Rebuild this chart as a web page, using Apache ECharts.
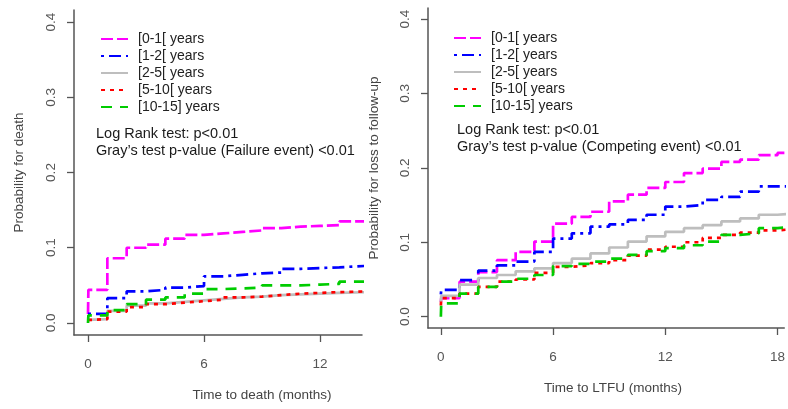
<!DOCTYPE html>
<html>
<head>
<meta charset="utf-8">
<script src="https://cdn.jsdelivr.net/npm/echarts@6/dist/echarts.min.js"></script>
<style>
  html, body { margin: 0; padding: 0; background: #fff; }
  #main { width: 788px; height: 409px; }
</style>
</head>
<body>
<div id="main"></div>
<script>
// groups (age at start)
var groups = ['[0-1[ years', '[1-2[ years', '[2-5[ years', '[5-10[ years', '[10-15] years'];

// left panel: cumulative incidence of death
var deathMonths = [0, 0.02, 1, 2, 3, 4, 5, 6, 7, 8, 9, 10, 11, 12, 13, 14.5];
var death0_1   = [0.012, 0.044, 0.086, 0.100, 0.104, 0.112, 0.117, 0.119, 0.121, 0.123, 0.126, 0.128, 0.129, 0.130, 0.135, 0.135];
var death1_2   = [0.012, 0.012, 0.033, 0.042, 0.044, 0.047, 0.049, 0.062, 0.064, 0.066, 0.067, 0.072, 0.073, 0.074, 0.076, 0.076];
var death2_5   = [0.004, 0.005, 0.016, 0.023, 0.026, 0.028, 0.030, 0.032, 0.034, 0.035, 0.037, 0.038, 0.039, 0.040, 0.041, 0.041];
var death5_10  = [0.004, 0.005, 0.015, 0.021, 0.025, 0.027, 0.029, 0.031, 0.034, 0.035, 0.037, 0.039, 0.040, 0.041, 0.042, 0.042];
var death10_15 = [0.000, 0.010, 0.017, 0.025, 0.031, 0.034, 0.039, 0.045, 0.046, 0.047, 0.050, 0.050, 0.051, 0.052, 0.055, 0.055];

// right panel: cumulative incidence of loss to follow-up
var ltfuMonths = [0, 0.02, 1, 2, 3, 4, 5, 6, 7, 8, 9, 10, 11, 12, 13, 14, 15, 16, 17, 18, 18.5];
var ltfu0_1   = [0.020, 0.025, 0.047, 0.060, 0.076, 0.087, 0.101, 0.125, 0.134, 0.141, 0.155, 0.164, 0.173, 0.181, 0.193, 0.199, 0.208, 0.211, 0.217, 0.220, 0.220];
var ltfu1_2   = [0.030, 0.036, 0.049, 0.062, 0.069, 0.074, 0.087, 0.105, 0.112, 0.121, 0.124, 0.130, 0.137, 0.148, 0.150, 0.157, 0.161, 0.168, 0.175, 0.175, 0.175];
var ltfu2_5   = [0.020, 0.028, 0.043, 0.052, 0.056, 0.061, 0.065, 0.072, 0.078, 0.085, 0.093, 0.101, 0.108, 0.114, 0.119, 0.123, 0.128, 0.132, 0.137, 0.138, 0.138];
var ltfu5_10  = [0.015, 0.025, 0.031, 0.040, 0.047, 0.050, 0.059, 0.067, 0.069, 0.072, 0.076, 0.082, 0.090, 0.094, 0.100, 0.106, 0.110, 0.113, 0.116, 0.117, 0.117];
var ltfu10_15 = [0.000, 0.018, 0.031, 0.040, 0.047, 0.051, 0.056, 0.068, 0.071, 0.074, 0.078, 0.083, 0.088, 0.092, 0.096, 0.101, 0.110, 0.112, 0.119, 0.120, 0.120];

var monthTicksLeft = [0, 6, 12];
var monthTicksRight = [0, 6, 12, 18];
var probTicks = [0, 0.1, 0.2, 0.3, 0.4];

var colors = ['#ff00ff', '#0000ff', '#bebebe', '#ff0000', '#00cc00'];
var dashes = [[12, 4], [3, 5, 12, 5], 'solid', [4, 5], [11, 8]];
var font = 'Liberation Sans, Arial, sans-serif';

function pairs(xs, ys) {
    var out = [];
    for (var i = 0; i < xs.length; i++) out.push([xs[i], ys[i]]);
    return out;
}

function makeSeries(idx, xs, lists) {
    return lists.map(function (ys, k) {
        return {
            name: groups[k],
            type: 'line',
            step: 'end',
            xAxisIndex: idx,
            yAxisIndex: idx,
            showSymbol: false,
            symbol: 'none',
            animation: false,
            lineStyle: { color: colors[k], width: 2.7, type: dashes[k] },
            itemStyle: { color: colors[k] },
            data: pairs(xs, ys)
        };
    });
}

function xAxisCfg(idx, min, max, ticks) {
    return {
        type: 'value', gridIndex: idx, min: min, max: max,
        splitLine: { show: false },
        axisLine: { onZero: false, lineStyle: { color: '#555', width: 1.5 } },
        axisTick: { length: 7, customValues: ticks, lineStyle: { color: '#555', width: 1.3 } },
        axisLabel: { customValues: ticks, margin: 22, color: '#555', fontSize: 13.5, fontFamily: font }
    };
}

function yAxisCfg(idx, min, max, title, gap) {
    return {
        type: 'value', gridIndex: idx, min: min, max: max,
        name: title, nameLocation: 'middle', nameGap: gap,
        nameTextStyle: { color: '#444', fontSize: 13.5, fontFamily: font },
        splitLine: { show: false },
        axisLine: { onZero: false, lineStyle: { color: '#555', width: 1.5 } },
        axisTick: { length: 7, customValues: probTicks, lineStyle: { color: '#555', width: 1.3 } },
        axisLabel: {
            customValues: probTicks, rotate: 90, margin: 16, color: '#555', fontSize: 13.5, fontFamily: font,
            formatter: function (v) { return v.toFixed(1); }
        }
    };
}

function legendCfg(left, top) {
    return {
        data: groups, orient: 'vertical', left: left, top: top,
        itemWidth: 27, itemHeight: 12, itemGap: 3, padding: 0,
        selectedMode: false,
        itemStyle: { opacity: 0 },
        textStyle: { color: '#222', fontSize: 14, fontFamily: font, padding: [0, 0, 0, 5] }
    };
}

function txt(x, y, s, align, size, color) {
    return {
        type: 'text', x: x, y: y,
        style: {
            text: s, fill: color || '#1a1a1a', font: (size || 14.5) + 'px ' + font,
            textAlign: align || 'left', textVerticalAlign: 'middle'
        }
    };
}

var chart = echarts.init(document.getElementById('main'));
var option = {
    animation: false,
    grid: [
        { left: 74, top: 10, width: 288, height: 325 },
        { left: 428, top: 8, width: 360, height: 320 }
    ],
    xAxis: [
        xAxisCfg(0, -0.724, 14.17, monthTicksLeft),
        xAxisCfg(1, -0.688, 18.36, monthTicksRight)
    ],
    yAxis: [
        yAxisCfg(0, -0.016, 0.416, 'Probability for death', 48),
        yAxisCfg(1, -0.0152, 0.4148, 'Probability for loss to follow-up', 47)
    ],
    legend: [legendCfg(100, 32), legendCfg(453, 31)],
    series: makeSeries(0, deathMonths, [death0_1, death1_2, death2_5, death5_10, death10_15])
        .concat(makeSeries(1, ltfuMonths, [ltfu0_1, ltfu1_2, ltfu2_5, ltfu5_10, ltfu10_15])),
    graphic: [
        txt(96, 134, 'Log Rank test: p<0.01'),
        txt(96, 151, 'Gray\u2019s test p-value (Failure event) <0.01'),
        txt(457, 130, 'Log Rank test: p<0.01'),
        txt(457, 147, 'Gray\u2019s test p-value (Competing event) <0.01'),
        txt(262, 395, 'Time to death (months)', 'center', 13.5, '#444'),
        txt(613, 388, 'Time to LTFU (months)', 'center', 13.5, '#444')
    ]
};
chart.setOption(option);
</script>
</body>
</html>
